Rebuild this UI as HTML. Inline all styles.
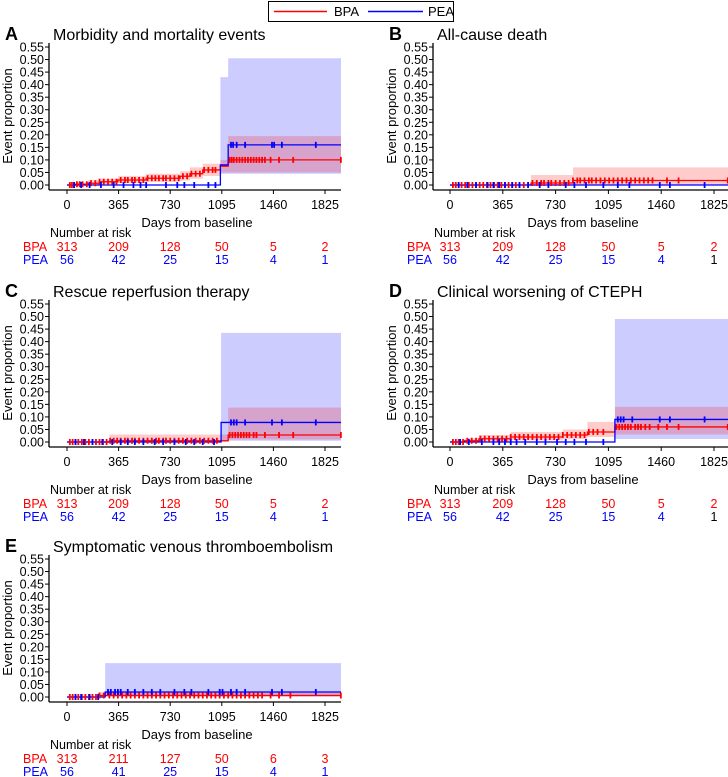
<!DOCTYPE html>
<html><head><meta charset="utf-8"><style>
html,body{margin:0;padding:0;background:#fff;}
svg{display:block;font-family:"Liberation Sans",sans-serif;}
</style></head><body>
<svg id="fig" width="728" height="777" viewBox="0 0 728 777" xmlns="http://www.w3.org/2000/svg">
<g>
<rect x="268.5" y="1.5" width="185" height="20" fill="#fff" stroke="#000" stroke-width="1"/>
<line x1="274" y1="11.5" x2="327" y2="11.5" stroke="#f00" stroke-width="1.5"/>
<text x="334" y="16" font-size="13" fill="#000">BPA</text>
<line x1="368" y1="11.5" x2="423" y2="11.5" stroke="#00f" stroke-width="1.5"/>
<text x="428" y="16" font-size="13" fill="#000">PEA</text>
</g>
</svg>
<script>
// ---- Data ----
const tickDays = [0,365,730,1095,1460,1825];
const yTicks = [0,0.05,0.10,0.15,0.20,0.25,0.30,0.35,0.40,0.45,0.50,0.55];
const yTickLabels = ["0.00","0.05","0.10","0.15","0.20","0.25","0.30","0.35","0.40","0.45","0.50","0.55"];
const panelLetters = ["A","B","C","D","E"];
const panelTitles = ["Morbidity and mortality events","All-cause death","Rescue reperfusion therapy","Clinical worsening of CTEPH","Symptomatic venous thromboembolism"];

// Panel A
const aBpaT = [0,60,150,230,360,560,800,870,960,1085,1140];
const aBpaV = [0,0.003,0.007,0.013,0.02,0.027,0.035,0.045,0.06,0.075,0.10];
const aBpaLo = [0,0,0.001,0.004,0.008,0.013,0.018,0.025,0.036,0.05,0.05];
const aBpaHi = [0,0.01,0.02,0.025,0.035,0.045,0.055,0.07,0.085,0.1,0.195];
const aPeaT = [0,1085,1140];
const aPeaV = [0,0.08,0.16];
const aPeaLo = [0,0.045,0.045];
const aPeaHi = [0,0.43,0.505];
const aBpaCens = [20,35,50,70,90,110,140,170,200,230,260,290,320,350,380,410,430,460,480,510,540,570,600,625,650,680,700,730,760,790,820,850,880,910,940,970,1000,1030,1050,1150,1165,1180,1200,1220,1240,1260,1280,1300,1320,1340,1360,1380,1400,1440,1500,1600,1940];
const aPeaCens = [50,100,160,240,330,400,470,520,560,700,780,830,900,1000,1050,1160,1175,1200,1260,1450,1465,1520,1760];
// Panel B
const bBpaT = [0,560,850];
const bBpaV = [0,0.008,0.018];
const bBpaLo = [0,0,0.002];
const bBpaHi = [0,0.04,0.07];
const bPeaT = [0];
const bPeaV = [0];
const bPeaLo = [0];
const bPeaHi = [0];
const bBpaCens = [20,40,60,80,105,130,155,180,205,230,255,280,305,330,355,380,405,430,455,480,510,540,570,600,630,650,680,700,730,760,790,820,850,880,900,930,960,980,1010,1040,1070,1100,1130,1160,1190,1220,1250,1280,1310,1340,1370,1400,1500,1580,1920];
const bPeaCens = [60,120,180,260,300,340,380,430,480,540,620,680,800,860,940,1060,1160,1240,1450,1520,1760];
// Panel C
const cBpaT = [0,300,1140];
const cBpaV = [0,0.005,0.028];
const cBpaLo = [0,0,0.01];
const cBpaHi = [0,0.03,0.137];
const cPeaT = [0,1090];
const cPeaV = [0,0.078];
const cPeaLo = [0,0.005];
const cPeaHi = [0,0.435];
const cBpaCens = [20,40,60,80,105,130,155,180,205,230,255,280,305,330,355,380,410,430,460,480,510,540,570,600,630,650,680,700,730,760,790,820,850,880,910,940,970,1000,1030,1060,1150,1170,1190,1210,1230,1250,1270,1290,1320,1340,1400,1500,1600,1940];
const cPeaCens = [60,120,180,250,320,380,430,480,540,620,680,760,840,900,960,1040,1160,1180,1200,1260,1450,1520,1760];
// Panel D
const dBpaT = [0,100,200,420,780,950,1140];
const dBpaV = [0,0.005,0.013,0.02,0.028,0.04,0.06];
const dBpaLo = [0,0,0.003,0.007,0.012,0.02,0.03];
const dBpaHi = [0,0.015,0.028,0.04,0.05,0.08,0.14];
const dPeaT = [0,1140];
const dPeaV = [0,0.09];
const dPeaLo = [0,0.012];
const dPeaHi = [0,0.49];
const dBpaCens = [20,40,60,90,120,150,180,210,240,270,300,330,360,390,420,450,480,510,540,570,600,630,660,690,720,750,780,810,840,870,900,930,960,990,1020,1060,1150,1170,1190,1210,1230,1250,1280,1300,1320,1350,1380,1440,1500,1580,1920];
const dPeaCens = [70,130,220,300,340,380,420,460,520,600,660,740,800,860,940,1060,1160,1180,1200,1260,1450,1520,1760];
// Panel E
const eBpaT = [0,220];
const eBpaV = [0,0.006];
const eBpaLo = [0,0.001];
const eBpaHi = [0,0.018];
const ePeaT = [0,270];
const ePeaV = [0,0.02];
const ePeaLo = [0,0.003];
const ePeaHi = [0,0.135];
const eBpaCens = [20,40,60,80,105,130,155,180,205,230,260,300,330,360,390,420,450,480,510,540,570,600,630,660,690,720,750,780,810,840,870,900,930,960,990,1020,1050,1080,1110,1140,1170,1200,1230,1260,1290,1320,1350,1380,1440,1500,1580,1940];
const ePeaCens = [60,100,160,220,290,310,340,360,380,430,480,540,600,660,760,830,880,1000,1080,1100,1160,1200,1260,1450,1520,1760];

const bpaRisk = [[313,209,128,50,5,2],[313,209,128,50,5,2],[313,209,128,50,5,2],[313,209,128,50,5,2],[313,211,127,50,6,3]];
const peaRisk = [[56,42,25,15,4,1],[56,42,25,15,4,1],[56,42,25,15,4,1],[56,42,25,15,4,1],[56,41,25,15,4,1]];

const series = [
 [aBpaT,aBpaV,aBpaLo,aBpaHi,aBpaCens,aPeaT,aPeaV,aPeaLo,aPeaHi,aPeaCens],
 [bBpaT,bBpaV,bBpaLo,bBpaHi,bBpaCens,bPeaT,bPeaV,bPeaLo,bPeaHi,bPeaCens],
 [cBpaT,cBpaV,cBpaLo,cBpaHi,cBpaCens,cPeaT,cPeaV,cPeaLo,cPeaHi,cPeaCens],
 [dBpaT,dBpaV,dBpaLo,dBpaHi,dBpaCens,dPeaT,dPeaV,dPeaLo,dPeaHi,dPeaCens],
 [eBpaT,eBpaV,eBpaLo,eBpaHi,eBpaCens,ePeaT,ePeaV,ePeaLo,ePeaHi,ePeaCens]
];

// ---- Drawing ----
const NS = "http://www.w3.org/2000/svg";
const svg = document.getElementById("fig");
function mk(tag, attrs, parent){
  const e = document.createElementNS(NS, tag);
  for (const k in attrs) e.setAttribute(k, attrs[k]);
  parent.appendChild(e);
  return e;
}
const layout = [
 {x0:67,x1:325,ax:49,right:341,dy:0},
 {x0:450,x1:714,ax:433,right:728,dy:0},
 {x0:67,x1:325,ax:49,right:341,dy:257},
 {x0:450,x1:714,ax:433,right:728,dy:257},
 {x0:67,x1:325,ax:49,right:341,dy:512}
];
function stepPath(T,V,xs,ys,endDay){
  let d = "M"+xs(T[0])+","+ys(V[0]);
  for(let i=1;i<T.length;i++){ d += " H"+xs(T[i])+" V"+ys(V[i]); }
  d += " H"+xs(endDay);
  return d;
}
function bandPath(T,Lo,Hi,xs,ys,endDay){
  let d = "M"+xs(T[0])+","+ys(Hi[0]);
  for(let i=1;i<T.length;i++){ d += " H"+xs(T[i])+" V"+ys(Hi[i]); }
  d += " H"+xs(endDay)+" V"+ys(Lo[Lo.length-1]);
  for(let i=T.length-1;i>=1;i--){ d += " H"+xs(T[i])+" V"+ys(Lo[i-1]); }
  d += " H"+xs(T[0])+" Z";
  return d;
}
function valAt(T,V,t){ let v=V[0]; for(let i=0;i<T.length;i++){ if(t>=T[i]) v=V[i]; } return v; }

layout.forEach((L,p)=>{
  const g = mk("g",{},svg);
  
  
  const y0 = 185+L.dy, yTop = 47+L.dy;
  const k = (L.x1-L.x0)/1825;
  const xs = d => L.x0 + d*k;
  const ys = v => y0 - v/0.55*(y0-yTop);
  const endDay = (L.right - L.x0)/k;
  const lt = mk("text",{x:L.ax-44,y:L.dy+40,"font-size":18,"font-weight":"bold"},g);
  lt.textContent = panelLetters[p];
  
  
  const tt = mk("text",{x:L.ax+4,y:L.dy+40,"font-size":16},g);
  tt.textContent = panelTitles[p];
  
  
  const S = series[p];
  const pb = mk("path",{d:bandPath(S[5],S[7],S[8],xs,ys,endDay),fill:"rgba(0,0,255,0.2)"},g);
  
  
  const bb = mk("path",{d:bandPath(S[0],S[2],S[3],xs,ys,endDay),fill:"rgba(255,0,0,0.2)"},g);
  
  
  const bl = mk("path",{d:stepPath(S[0],S[1],xs,ys,endDay),fill:"none",stroke:"#f00","stroke-width":1.3},g);
  
  
  const pl = mk("path",{d:stepPath(S[5],S[6],xs,ys,endDay),fill:"none",stroke:"#00f","stroke-width":1.3},g);
  
  
  S[4].forEach(t=>{ if(t>endDay) t=endDay-1; const y=ys(valAt(S[0],S[1],t));
    const m = mk("line",{x1:xs(t),x2:xs(t),y1:y-3,y2:y+3,stroke:"#f00","stroke-width":1.8},g);
    
     });
  S[9].forEach(t=>{ const y=ys(valAt(S[5],S[6],t));
    const m = mk("line",{x1:xs(t),x2:xs(t),y1:y-3,y2:y+3,stroke:"#00f","stroke-width":1.8},g);
    
     });
  const ya = mk("line",{x1:L.ax,x2:L.ax,y1:yTop-4,y2:y0+5,stroke:"#000","stroke-width":1.3},g);
  
  
  const xa = mk("line",{x1:L.ax,x2:L.right,y1:y0+5,y2:y0+5,stroke:"#000","stroke-width":1.3},g);
  
  
  yTicks.forEach((v,i)=>{
    mk("line",{x1:L.ax-4,x2:L.ax,y1:ys(v),y2:ys(v),stroke:"#000"},g);
    const t = mk("text",{x:L.ax-5,y:ys(v)+4.5,"font-size":12.5,"text-anchor":"end"},g);
    t.textContent = yTickLabels[i];
    
    
  });
  tickDays.forEach(d=>{
    mk("line",{x1:xs(d),x2:xs(d),y1:y0+5,y2:y0+9,stroke:"#000"},g);
    const t = mk("text",{x:xs(d),y:y0+24,"font-size":12.5,"text-anchor":"middle"},g);
    t.textContent = d;
    
    
  });
  const xt = mk("text",{x:(L.x0+L.x1)/2+1,y:y0+42,"font-size":13,"text-anchor":"middle"},g);
  xt.textContent = "Days from baseline";
  
  
  const yt = mk("text",{x:0,y:0,"font-size":13,"text-anchor":"middle",transform:"translate("+(L.ax-37)+","+((y0+yTop)/2)+") rotate(-90)"},g);
  yt.textContent = "Event proportion";
  
  
  const nr = mk("text",{x:L.ax+1,y:y0+52,"font-size":12.5},g);
  nr.textContent = "Number at risk";
  
  
  const rl1 = mk("text",{x:L.ax-26,y:y0+66,"font-size":12.5,fill:"#f00"},g);
  rl1.textContent = "BPA";
  
  
  const rl2 = mk("text",{x:L.ax-26,y:y0+79,"font-size":12.5,fill:"#00f"},g);
  rl2.textContent = "PEA";
  
  
  tickDays.forEach((d,i)=>{
    const a = mk("text",{x:xs(d),y:y0+66,"font-size":12.5,fill:"#f00","text-anchor":"middle"},g);
    a.textContent = bpaRisk[p][i];
    
    
    const black = (p===1||p===3) && i===5;
    const b = mk("text",{x:xs(d),y:y0+79,"font-size":12.5,fill:black?"#000":"#00f","text-anchor":"middle"},g);
    b.textContent = peaRisk[p][i];
    
    
  });
});
</script>
</body></html>
